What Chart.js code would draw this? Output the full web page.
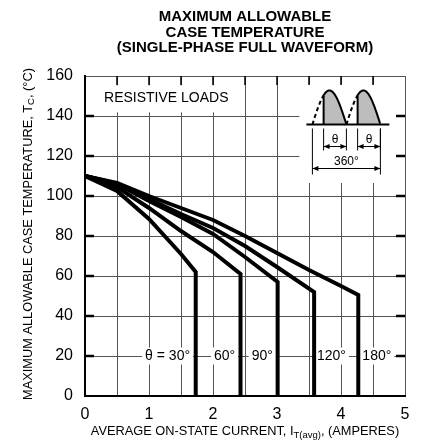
<!DOCTYPE html>
<html>
<head>
<meta charset="utf-8">
<script src="https://cdn.jsdelivr.net/npm/chart.js@4.4.0/dist/chart.umd.min.js"></script>
<style>
  html, body { margin: 0; padding: 0; background: #fff; overflow: hidden; }
  canvas { display: block; }
</style>
</head>
<body>
<canvas id="graficoTemperatura" width="435" height="447"></canvas>
<script>
// Datos (corriente en A, temperatura en °C)
const angulos = ["θ = 30°", "60°", "90°", "120°", "180°"];
const corriente30 = [0, 0.5, 1.0, 1.5, 1.73, 1.73];
const temp30 = [110, 102.5, 88.5, 71, 62, 0];
const corriente60 = [0, 0.5, 1.0, 1.5, 2.0, 2.43, 2.43];
const temp60 = [110, 104.5, 94, 82.5, 72, 61, 0];
const corriente90 = [0, 0.5, 1.0, 1.5, 2.0, 2.5, 3.01, 3.01];
const temp90 = [110, 106, 97.5, 89.5, 81, 69.5, 57, 0];
const corriente120 = [0, 0.5, 1.0, 1.5, 2.0, 2.5, 3.0, 3.58, 3.58];
const temp120 = [110, 106, 98.5, 91, 84, 75, 64.5, 52, 0];
const corriente180 = [0, 0.5, 1.0, 1.5, 2.0, 2.5, 3.0, 3.5, 4.0, 4.27, 4.27];
const temp180 = [110, 106.5, 100, 94, 88, 80, 71.5, 63, 55, 50.5, 0];
const ticksX = [0, 1, 2, 3, 4, 5];
const ticksY = [0, 20, 40, 60, 80, 100, 120, 140, 160];
const titulo = ["MAXIMUM ALLOWABLE", "CASE TEMPERATURE", "(SINGLE-PHASE FULL WAVEFORM)"];

// Posición (en A) de cada etiqueta de ángulo, a la altura de 20 °C
const posEtiquetas = [1.29, 2.18, 2.77, 3.85, 4.56];

const corrientes = [corriente30, corriente60, corriente90, corriente120, corriente180];
const temperaturas = [temp30, temp60, temp90, temp120, temp180];

const fuente = '"Liberation Sans", Arial, sans-serif';

// Dibuja un texto con un subíndice en medio (títulos de los ejes)
function textoConSubindice(ctx, partes, cx, cy) {
  const fontDe = (p) => (p.sub ? "9.5px " : "12.8px ") + fuente;
  let total = 0;
  partes.forEach((p) => {
    ctx.font = fontDe(p);
    total += ctx.measureText(p.t).width;
  });
  let px = cx - total / 2;
  ctx.textAlign = "left";
  ctx.textBaseline = "middle";
  partes.forEach((p) => {
    ctx.font = fontDe(p);
    ctx.fillText(p.t, px, cy + (p.sub ? 3.5 : 0));
    px += ctx.measureText(p.t).width;
  });
}

function flecha(ctx, x1, x2, yy) {
  ctx.beginPath();
  ctx.moveTo(x1, yy);
  ctx.lineTo(x2, yy);
  ctx.stroke();
  ctx.beginPath();
  ctx.moveTo(x1, yy);
  ctx.lineTo(x1 + 6, yy - 2.5);
  ctx.lineTo(x1 + 6, yy + 2.5);
  ctx.closePath();
  ctx.moveTo(x2, yy);
  ctx.lineTo(x2 - 6, yy - 2.5);
  ctx.lineTo(x2 - 6, yy + 2.5);
  ctx.closePath();
  ctx.fill();
}

// Recuadros, marcas interiores, etiquetas y el dibujo de la onda
const decoraciones = {
  id: "decoraciones",
  beforeDatasetsDraw(chart) {
    const { ctx, chartArea: a } = chart;
    const x = chart.scales.x;
    const y = chart.scales.y;
    ctx.save();

    // cajas blancas
    ctx.fillStyle = "#fff";
    const ry1 = y.getPixelForValue(155.3);
    const ry2 = y.getPixelForValue(141.8);
    ctx.fillRect(a.left + 1.5, ry1, x.getPixelForValue(2.42) - a.left - 1.5, ry2 - ry1);
    const bx = x.getPixelForValue(3.35);
    const by = y.getPixelForValue(156);
    const bw = x.getPixelForValue(4.88) - bx;
    const bh = y.getPixelForValue(106.5) - by;
    ctx.fillRect(bx, by, bw, bh);

    // marcas interiores
    ctx.strokeStyle = "#000";
    ctx.lineWidth = 2.5;
    for (let v = 20; v < 160; v += 20) {
      const py = y.getPixelForValue(v);
      ctx.beginPath();
      ctx.moveTo(a.left, py);
      ctx.lineTo(a.left + 9, py);
      ctx.moveTo(a.right, py);
      ctx.lineTo(a.right - 9, py);
      ctx.stroke();
    }
    ctx.lineWidth = 1.5;
    for (let v = 0.5; v < 5; v += 0.5) {
      const px = x.getPixelForValue(v);
      ctx.beginPath();
      ctx.moveTo(px, a.top);
      ctx.lineTo(px, a.top + 9);
      ctx.stroke();
    }

    // texto RESISTIVE LOADS
    ctx.fillStyle = "#000";
    ctx.font = "14px " + fuente;
    ctx.textAlign = "center";
    ctx.textBaseline = "middle";
    ctx.fillText("RESISTIVE LOADS", x.getPixelForValue(1.27), y.getPixelForValue(148.8));

    // etiquetas de ángulo
    angulos.forEach((t, i) => {
      const px = x.getPixelForValue(posEtiquetas[i]);
      const py = y.getPixelForValue(20);
      const w = ctx.measureText(t).width + 6;
      ctx.fillStyle = "#fff";
      ctx.fillRect(px - w / 2, py - 8.5, w, 17);
      ctx.fillStyle = "#000";
      ctx.fillText(t, px, py + 0.5);
    });

    // dibujo de la onda rectificada
    const base = by + 40.5;
    const alto = 34;
    const jorobas = [[bx + 13, bx + 47], [bx + 47, bx + 81]];
    const disparo = 0.33;
    jorobas.forEach(([i0, i1]) => {
      const w = i1 - i0;
      const xd = i0 + w * disparo;
      const yAt = (xx) => base - alto * Math.sin(Math.PI * (xx - i0) / w);
      ctx.beginPath();
      ctx.moveTo(xd, base);
      for (let xx = xd; xx <= i1; xx += 0.5) ctx.lineTo(xx, yAt(xx));
      ctx.lineTo(i1, base);
      ctx.closePath();
      ctx.fillStyle = "#bdbdbd";
      ctx.fill();
      ctx.strokeStyle = "#000";
      ctx.lineWidth = 2;
      ctx.setLineDash([]);
      ctx.beginPath();
      ctx.moveTo(xd, base);
      for (let xx = xd; xx <= i1; xx += 0.5) ctx.lineTo(xx, yAt(xx));
      ctx.stroke();
      ctx.setLineDash([4, 3]);
      ctx.beginPath();
      ctx.moveTo(i0, base);
      for (let xx = i0; xx <= xd; xx += 0.5) ctx.lineTo(xx, yAt(xx));
      ctx.stroke();
      ctx.setLineDash([]);
    });
    ctx.lineWidth = 2;
    ctx.beginPath();
    ctx.moveTo(bx + 7, base);
    ctx.lineTo(bx + 90, base);
    ctx.stroke();

    // cotas
    ctx.lineWidth = 1;
    ctx.fillStyle = "#000";
    jorobas.forEach(([i0, i1]) => {
      const xd = i0 + (i1 - i0) * disparo;
      ctx.beginPath();
      ctx.moveTo(xd, base + 4);
      ctx.lineTo(xd, base + 26);
      ctx.moveTo(i1, base + 4);
      ctx.lineTo(i1, base + 26);
      ctx.stroke();
      flecha(ctx, xd, i1, base + 22);
      ctx.font = "12px " + fuente;
      ctx.textAlign = "center";
      ctx.fillText("θ", (xd + i1) / 2, base + 15);
    });
    const l0 = jorobas[0][0];
    const l1 = jorobas[1][1];
    ctx.beginPath();
    ctx.moveTo(l0, base + 4);
    ctx.lineTo(l0, base + 50);
    ctx.moveTo(l1, base + 4);
    ctx.lineTo(l1, base + 50);
    ctx.stroke();
    flecha(ctx, l0, l1, base + 44);
    ctx.font = "12px " + fuente;
    ctx.fillText("360°", (l0 + l1) / 2, base + 37);

    ctx.restore();
  },
  afterDraw(chart) {
    const { ctx, chartArea: a } = chart;
    const centro = (a.left + a.right) / 2;
    ctx.save();
    ctx.fillStyle = "#000";
    // título, centrado sobre el área del gráfico
    ctx.font = "bold 15px " + fuente;
    ctx.textAlign = "center";
    ctx.textBaseline = "middle";
    titulo.forEach((linea, i) => ctx.fillText(linea, centro, 17 + i * 15.5));
    // títulos de los ejes
    textoConSubindice(ctx, [
      { t: "AVERAGE ON-STATE CURRENT, I", sub: false },
      { t: "T(avg)", sub: true },
      { t: ", (AMPERES)", sub: false },
    ], centro, 431.5);
    ctx.translate(28, (a.top + a.bottom) / 2 - 2);
    ctx.rotate(-Math.PI / 2);
    textoConSubindice(ctx, [
      { t: "MAXIMUM ALLOWABLE CASE TEMPERATURE, T", sub: false },
      { t: "C", sub: true },
      { t: ", (°C)", sub: false },
    ], 0, 0);
    ctx.restore();
  },
};

const ctx = document.getElementById("graficoTemperatura").getContext("2d");
const graficoTemperatura = new Chart(ctx, {
  type: "line",
  data: {
    datasets: angulos.map((nombre, i) => ({
      label: nombre,
      data: corrientes[i].map((c, j) => ({ x: c, y: temperaturas[i][j] })),
      borderColor: "#000",
      borderWidth: 4,
      borderJoinStyle: "miter",
      pointRadius: 0,
      fill: false,
      tension: 0,
    })),
  },
  options: {
    responsive: false,
    animation: false,
    layout: { padding: { left: 0, right: 30, top: 76, bottom: 0 } },
    scales: {
      x: {
        type: "linear",
        min: 0,
        max: 5,
        ticks: {
          stepSize: 0.5,
          color: "#000",
          font: { size: 16, family: fuente },
          padding: 9,
          maxRotation: 0,
          autoSkip: false,
          callback: (v) => (ticksX.includes(v) ? String(v) : ""),
        },
        grid: { color: "#555", lineWidth: 1, drawTicks: false },
        border: { color: "#000", width: 2 },
        afterFit: (s) => { s.height = 51; },
      },
      y: {
        min: 0,
        max: 160,
        ticks: {
          stepSize: 20,
          color: "#000",
          font: { size: 16, family: fuente },
          padding: 12,
          callback: (v) => (ticksY.includes(v) ? String(v) : ""),
        },
        grid: { color: "#555", lineWidth: 1, drawTicks: false },
        border: { color: "#000", width: 2 },
        afterFit: (s) => { s.width = 85; },
      },
    },
    plugins: {
      legend: { display: false },
      tooltip: { enabled: false },
      title: { display: false },
    },
  },
  plugins: [decoraciones],
});
</script>
</body>
</html>
